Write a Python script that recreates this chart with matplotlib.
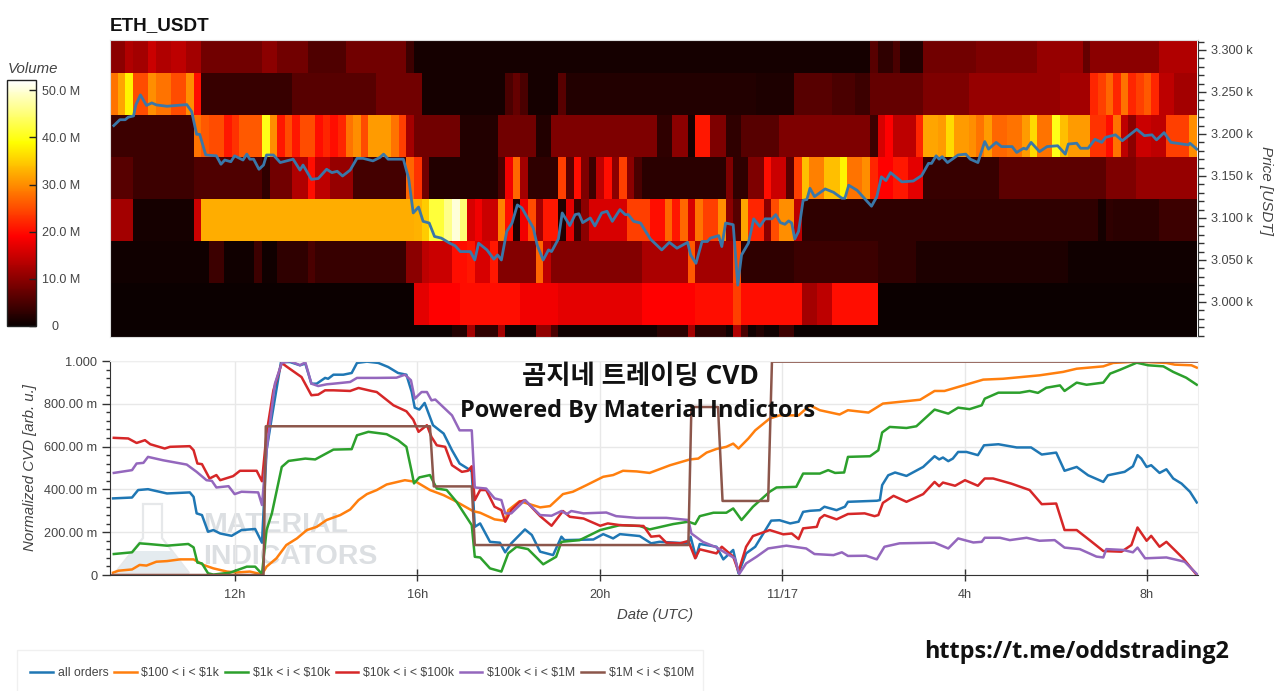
"""ETH_USDT volume heatmap with normalized CVD by order size."""
import numpy as np
import matplotlib
matplotlib.use("Agg")
import matplotlib.pyplot as plt
from matplotlib.patches import Polygon, Rectangle
from matplotlib.lines import Line2D
from matplotlib.ticker import FixedLocator, MultipleLocator
from matplotlib.transforms import ScaledTranslation

plt.rcParams["font.family"] = ["Liberation Sans", "DejaVu Sans"]

# 10 minute bars, first bar starts at 09:15:36 on 11/16 (hours since 11/16 00:00)
START_HOUR = 9.26
N_BARS = 143
VMAX = 52.2
# lower edge of the lowest volume row and the row height, in USDT
ROW_FLOOR = 2922.6
ROW_HEIGHT = 50

# volume per price level in millions, as (last bar of the run, volume)
vol_3300 = [(2, 10), (3, 13), (5, 12), (6, 15), (8, 13), (10, 14), (12, 12), (20, 8), (22, 10), (26, 8), (31, 5.5),
            (39, 8), (40, 4), (100, 1), (101, 6), (103, 3), (104, 5), (107, 2), (114, 8), (122, 9), (128, 11), (129, 7),
            (138, 10), (143, 13)]
vol_3250 = [(1, 28), (2, 32), (3, 38), (5, 25), (6, 30), (8, 28), (10, 25), (11, 30), (12, 20), (24, 3.5), (35, 6),
            (41, 8), (52, 1), (53, 5), (54, 7), (55, 5), (59, 1), (60, 6), (85, 2), (90, 1.5), (95, 6), (98, 5),
            (100, 4), (107, 7), (113, 9), (125, 11), (129, 12), (130, 22), (131, 24), (132, 27), (133, 22), (134, 28),
            (135, 22), (136, 24), (137, 26), (138, 22), (140, 14), (143, 12)]
vol_3200 = [(11, 4), (12, 28), (13, 26), (15, 25), (16, 21), (17, 23), (20, 26), (21, 40), (22, 30), (23, 21), (24, 25),
            (25, 21), (27, 25), (28, 20), (29, 22), (30, 20), (31, 22), (32, 28), (33, 30), (34, 25), (37, 31), (38, 28),
            (39, 24), (40, 12), (46, 8), (51, 2), (56, 8), (58, 2), (72, 9), (74, 3), (76, 10), (77, 1), (79, 21), (81, 9),
            (83, 3), (88, 6), (100, 9), (101, 4), (102, 16), (103, 19), (106, 14), (107, 22), (109, 32), (110, 31),
            (111, 36), (113, 31), (114, 30), (115, 28), (116, 31), (118, 27), (120, 28), (121, 31), (122, 36), (124, 28),
            (125, 40), (126, 34), (129, 31), (131, 23), (132, 20), (133, 28), (134, 14), (135, 10), (137, 15), (139, 14),
            (142, 24), (143, 30)]
vol_3150 = [(3, 6), (11, 4), (20, 5.5), (21, 3), (24, 8), (26, 13), (27, 20), (29, 14), (32, 11), (39, 4.5), (40, 27),
            (41, 23), (42, 8), (51, 2), (52, 5), (53, 18), (54, 27), (55, 12), (59, 3), (60, 24), (61, 6), (62, 20),
            (63, 9), (64, 4), (65, 14), (66, 20), (67, 10), (68, 24), (69, 10), (70, 5), (81, 2.5), (82, 9), (84, 3),
            (86, 9), (87, 20), (89, 15), (90, 6), (91, 24), (92, 34), (94, 29), (96, 34), (97, 38), (99, 28), (100, 30),
            (101, 22), (103, 19), (105, 21), (107, 17), (117, 3.5), (131, 6.5), (135, 9), (143, 11)]
vol_3100 = [(3, 12), (11, 1), (12, 15), (40, 32.5), (41, 33), (42, 35), (44, 42), (45, 46), (46, 50), (47, 45), (48, 16),
            (49, 18), (51, 15), (52, 29), (53, 20), (54, 2), (55, 18), (56, 25), (57, 12), (59, 21), (60, 2), (61, 17),
            (62, 4), (63, 10), (68, 16), (71, 24), (73, 20), (74, 27), (75, 21), (76, 27), (77, 16), (78, 28), (80, 24),
            (81, 30), (82, 10), (83, 6), (84, 32), (86, 22), (87, 10), (88, 25), (90, 30), (91, 14), (130, 3), (131, 1),
            (132, 3), (138, 2.5), (143, 4)]
vol_3050 = [(13, 0.5), (15, 4), (19, 0.5), (20, 4), (22, 0.5), (26, 3), (27, 5), (39, 3.5), (41, 10), (42, 14), (45, 15),
            (47, 20), (48, 21), (50, 16), (51, 21), (56, 9.5), (57, 27), (58, 14), (70, 9.5), (76, 12.5), (77, 26), (82, 12),
            (83, 25), (90, 3), (101, 4), (106, 3), (126, 1.5), (143, 0.5)]
vol_3000 = [(40, 0.2), (42, 17), (46, 19), (48, 20), (54, 20), (59, 18), (70, 17), (77, 19), (82, 20), (83, 24), (91, 20),
            (93, 12), (95, 14), (101, 20), (143, 0.2)]
vol_2950 = [(45, 0.2), (47, 2), (48, 12), (51, 3), (52, 12), (56, 0.5), (58, 10.5), (59, 5), (72, 0.5), (76, 2.5),
            (77, 12), (81, 2.5), (82, 0.5), (83, 13), (84, 5), (85, 0.5), (86, 2), (88, 0.5), (90, 4), (143, 0.2)]

# price as (bar, USDT)
price = [(0.5, 3210), (1.3, 3217), (2, 3217), (2.4, 3220), (3.1, 3221.5), (3.4, 3234.6), (4, 3246.5), (4.8, 3234),
         (5.5, 3237), (6.1, 3234.6), (7.5, 3233), (8.8, 3234), (10.1, 3235), (10.75, 3226.6), (11.4, 3199.6),
         (11.8, 3199.6), (12.6, 3175), (14, 3174), (14.6, 3164), (15.1, 3169), (15.9, 3167), (16.4, 3174), (17.5, 3169),
         (18, 3176), (18.4, 3170), (18.9, 3170), (19.6, 3158), (20.2, 3163), (20.6, 3175), (21.5, 3175), (22.4, 3166),
         (24.1, 3170), (25, 3157), (25.4, 3163), (26.5, 3146), (27.4, 3147), (28.5, 3158), (29.2, 3154), (29.9, 3155.6),
         (30.6, 3150), (31.6, 3157), (32.5, 3171), (33.3, 3171), (34.6, 3168), (35.5, 3172), (36, 3176), (36.6, 3170),
         (38.6, 3170), (39.3, 3147), (39.9, 3106), (40.6, 3113), (41.2, 3096), (42, 3094), (42.7, 3078), (43.6, 3076),
         (44.7, 3070), (45.4, 3067), (46.1, 3060), (47.4, 3060), (48, 3050), (48.5, 3070), (49.6, 3062), (50.5, 3051),
         (51, 3056), (51.5, 3050), (52.2, 3084), (52.9, 3094), (53.6, 3115.5), (54.2, 3112), (55.7, 3088), (56.2, 3068),
         (57, 3050), (57.7, 3062), (58.1, 3060), (59, 3075), (59.5, 3106), (60.5, 3091), (61.2, 3104), (61.7, 3105),
         (62.2, 3094.5), (63.2, 3100), (63.8, 3090.5), (64.7, 3106), (65.4, 3108), (66.1, 3096), (67.1, 3110), (67.8, 3104),
         (68.2, 3104), (68.9, 3096), (69.8, 3094), (71.1, 3075), (72.6, 3062), (73.6, 3071), (74.6, 3064), (76, 3071),
         (76.4, 3056), (77.1, 3046), (77.9, 3072), (78.6, 3072), (79, 3076), (80.1, 3079), (80.5, 3066), (81, 3094),
         (82, 3092), (82.6, 3020), (83.1, 3056), (84, 3070), (84.7, 3099), (85.5, 3090), (86.2, 3099), (87.1, 3099),
         (87.6, 3104), (88.2, 3094.5), (88.8, 3092.5), (89.3, 3096.5), (89.7, 3094), (90.1, 3075), (90.6, 3084), (91.2, 3121),
         (91.7, 3122), (92.1, 3135.4), (92.7, 3125.5), (94.1, 3134.6), (95.2, 3130.6), (96.3, 3123.5), (96.7, 3123.5),
         (97.2, 3139), (98.3, 3133), (100.2, 3114), (100.9, 3125.4), (101.5, 3149), (102.1, 3144.5), (102.7, 3154),
         (104.2, 3143), (105.7, 3144), (106.8, 3150.5), (107.7, 3165), (108.1, 3165), (108.7, 3174), (109.1, 3170),
         (109.5, 3173), (110.2, 3166), (111.6, 3175), (112.6, 3176), (113.2, 3170), (114.2, 3166), (115.1, 3191), (115.6, 3182),
         (116.6, 3190), (117.3, 3185), (118.7, 3185), (119.3, 3178), (120.2, 3183), (120.6, 3182), (121.2, 3190), (122.3, 3179),
         (123.3, 3185), (124.7, 3186), (125.7, 3176), (126.1, 3188), (127.2, 3189), (127.7, 3183), (128.7, 3183), (129.6, 3193.7),
         (130.5, 3190), (131, 3196), (132.3, 3199), (133.2, 3192), (135.1, 3205.6), (136.1, 3198), (137.1, 3199), (137.7, 3193),
         (138.7, 3201.6), (139.6, 3190), (141.9, 3187), (142.1, 3189), (143, 3182)]

# normalized CVD as (bar, milli units)
cvd_all = [(0.4, 358), (2.9, 362), (3.7, 397), (5, 401), (7.5, 381), (10.5, 386), (11, 365), (11.4, 288), (12.1, 280),
           (12.9, 202), (13.6, 210), (14.5, 194), (16, 183), (17.3, 210), (19.1, 215), (20, 151), (20.6, 583), (21.3, 739),
           (22.5, 995), (23.7, 995), (25, 980), (25.7, 988), (26.5, 894), (27.2, 894), (28.3, 921), (28.7, 917), (29.4, 936),
           (30.7, 936), (31.8, 944), (32.5, 991), (33.8, 997), (35.3, 991), (36.6, 972), (37.9, 944), (39, 936), (39.7, 855),
           (40.1, 782), (40.7, 773), (41.4, 804), (42.5, 700), (43.9, 661), (45, 583), (46, 521), (47.4, 490), (47.6, 482),
           (48, 225), (48.7, 241), (50, 155), (51.3, 151), (52, 106), (52.8, 148), (54.6, 213), (55.5, 187), (56.6, 109),
           (58.3, 93), (59.4, 179), (59.8, 163), (63.6, 166), (64.9, 191), (66.2, 171), (67.1, 191), (69.7, 182), (71.2, 148),
           (72.3, 155), (76.1, 148), (76.4, 179), (77.1, 82), (77.6, 145), (79.8, 132), (80.7, 73), (82, 117), (82.7, 8),
           (83.7, 101), (84.9, 132), (87, 254), (88.1, 256), (89.5, 241), (90.6, 249), (91.2, 295), (92.1, 300), (93.4, 303),
           (94, 319), (95.6, 303), (96.7, 319), (97.1, 342), (100.9, 347), (101.3, 350), (101.6, 420), (102.4, 466), (103.3, 479),
           (104.8, 463), (107, 505), (108.5, 555), (109.1, 540), (109.6, 549), (110.3, 532), (110.9, 544), (111.6, 575),
           (112.7, 575), (114.2, 560), (115, 606), (116.9, 611), (119.3, 596), (121.2, 596), (122.6, 563), (124.5, 572),
           (125.6, 487), (127.2, 505), (128.7, 466), (130.7, 435), (131.3, 466), (133.5, 482), (134.6, 508), (135.2, 560),
           (135.7, 544), (136.4, 505), (137, 513), (138.1, 477), (139, 494), (139.9, 451), (141, 427), (142.1, 389), (143, 339)]
cvd_100_1k = [(0.4, 11), (1.1, 20), (2.9, 26), (3.9, 47), (4.8, 44), (6.1, 62), (7.5, 65), (9.2, 73), (11, 73), (12.3, 47),
              (13.6, 31), (15.4, 16), (16.7, 12), (18.4, 16), (20, 3), (20.6, 39), (21.9, 78), (23.2, 140), (24.6, 171),
              (25.9, 210), (27.2, 225), (28.5, 257), (30.3, 280), (31.6, 306), (32.7, 350), (33.8, 378), (35.1, 397), (36.4, 423),
              (38.8, 443), (40.3, 435), (42.1, 397), (43.9, 373), (45.2, 350), (47.8, 298), (48.7, 291), (50.6, 260), (52, 253),
              (52.4, 303), (53.9, 345), (56.6, 316), (57.9, 322), (59.6, 378), (60.9, 389), (62.7, 420), (64.9, 459), (66.2, 467),
              (67.5, 487), (69.3, 484), (71, 477), (73.7, 513), (76.3, 540), (77.4, 544), (78.5, 572), (79.8, 589), (81.1, 599),
              (82, 614), (82.7, 591), (84, 638), (84.9, 676), (86.8, 731), (88.1, 746), (90.6, 746), (92.1, 793), (93.4, 770),
              (96, 750), (97.1, 770), (99.8, 759), (101.7, 801), (106.6, 819), (108.5, 860), (109.8, 860), (114.9, 913),
              (117.5, 917), (122.3, 933), (125.4, 949), (127.2, 964), (130.7, 975), (132, 991), (135.1, 997), (139, 991),
              (140.1, 983), (142.3, 980), (143, 969)]
cvd_1k_10k = [(0.5, 98), (2.9, 106), (3.9, 148), (5, 145), (7.5, 137), (10.3, 145), (11, 129), (11.5, 58), (12.1, 54),
              (12.9, 8), (13.6, 2), (15.8, 11), (18, 39), (19.1, 39), (20, 5), (20.6, 210), (21.3, 288), (22.6, 505), (23.5, 533),
              (25.7, 544), (27, 540), (28.3, 565), (29.4, 586), (31.8, 588), (32.5, 653), (34, 669), (36.4, 658), (37.9, 630),
              (39, 599), (39.7, 482), (40, 428), (40.7, 456), (42.1, 467), (43, 404), (44.3, 397), (45.6, 342), (47.6, 233),
              (48, 85), (48.7, 82), (50, 31), (51.5, 16), (52.4, 101), (53.5, 132), (55, 121), (57, 50), (58.7, 85), (59.4, 155),
              (61.8, 163), (64.5, 210), (67.1, 233), (69.7, 229), (71, 213), (74.1, 238), (76.1, 249), (77, 238), (77.6, 275),
              (79.4, 291), (81.1, 291), (82, 311), (83.1, 257), (84.6, 319), (86.8, 389), (87.7, 409), (90.3, 412), (91.2, 474),
              (92.1, 474), (93.4, 474), (94.5, 490), (95.4, 477), (96.6, 479), (97.1, 552), (100, 555), (101.1, 583), (101.6, 666),
              (102.6, 692), (104.8, 687), (106.1, 695), (108.5, 773), (110.3, 754), (111.6, 782), (113.1, 775), (114.7, 793),
              (115.1, 824), (116.9, 852), (119.7, 852), (121, 860), (122.1, 851), (123.2, 875), (125, 886), (125.6, 860),
              (127.2, 899), (128.5, 889), (130.7, 899), (131.6, 941), (132.9, 959), (135.1, 992), (136.6, 980), (138.6, 975),
              (139.9, 949), (141.6, 922), (143, 889)]
cvd_10k_100k = [(0.5, 641), (2.4, 638), (3.5, 617), (4.6, 630), (5.3, 611), (7.2, 591), (7.9, 599), (10.5, 602), (11, 583),
                (11.5, 521), (12.1, 518), (13.1, 451), (14, 467), (14.5, 443), (16.2, 462), (17.1, 487), (19.3, 487), (20, 438),
                (20.6, 661), (21.5, 863), (22.6, 991), (23.2, 975), (25.2, 925), (26.5, 840), (27.4, 843), (28.3, 863), (29.4, 863),
                (31.6, 860), (32.7, 874), (34.4, 860), (35.1, 855), (37.3, 793), (39, 765), (39.9, 726), (40.6, 669), (41.7, 700),
                (42.3, 645), (43, 606), (44.1, 599), (45, 513), (46.3, 482), (47.1, 487), (47.6, 508), (48, 350), (48.7, 397),
                (49.5, 397), (50.6, 319), (51.5, 303), (52, 249), (52.8, 303), (53.9, 342), (54.6, 350), (56.6, 275), (58.1, 230),
                (59.6, 299), (60.5, 272), (62.3, 264), (64.5, 230), (65.5, 241), (67.1, 233), (70.2, 229), (71.2, 179), (72.3, 183),
                (73.2, 151), (75, 148), (76.1, 159), (77, 78), (77.6, 120), (79.8, 101), (80.5, 132), (82, 86), (82.7, 16),
                (83.7, 132), (84.6, 182), (86.8, 210), (88.6, 190), (89.7, 194), (90.6, 168), (91.2, 218), (93, 225), (93.4, 264),
                (94, 280), (95.6, 260), (97.1, 285), (99.3, 288), (100.6, 275), (101.1, 280), (101.7, 337), (103.1, 370), (104.8, 342),
                (107, 378), (108.5, 435), (109.1, 415), (109.6, 432), (111.2, 417), (112.5, 443), (114.2, 417), (115.1, 451),
                (116.2, 451), (118.6, 427), (121, 397), (122.6, 331), (124.5, 334), (125.6, 210), (127.2, 210), (128.9, 163),
                (130.7, 112), (133.1, 109), (134.4, 140), (135.2, 222), (136.4, 160), (137, 183), (138.1, 132), (139, 155),
                (141.2, 78), (143, 0)]
cvd_100k_1m = [(0.5, 477), (2.9, 490), (3.5, 521), (4.4, 524), (5, 552), (7, 536), (10.1, 516), (11.4, 482), (12.7, 443),
               (13.4, 440), (14, 409), (15.6, 415), (16.4, 378), (17.3, 389), (19.5, 386), (20, 327), (20.6, 583), (21.7, 894),
               (22.6, 991), (23.7, 1000), (25, 980), (25.7, 994), (26.5, 894), (27.4, 883), (28.5, 891), (29.4, 894), (31.6, 902),
               (32.5, 921), (35.1, 921), (37.7, 922), (38.8, 936), (39.6, 910), (40.1, 824), (41, 855), (41.7, 855), (42.3, 816),
               (42.8, 820), (45, 746), (46, 676), (47.6, 676), (48, 409), (49.5, 404), (50.6, 358), (51.5, 350), (52, 288),
               (52.8, 288), (54.6, 350), (56.6, 280), (58.1, 277), (59.4, 299), (60.1, 285), (60.7, 299), (62.3, 288), (65.3, 292),
               (66.6, 275), (69.3, 267), (73.2, 267), (76.1, 257), (76.5, 194), (78, 155), (79.8, 129), (81.1, 101), (82.2, 78),
               (82.8, 5), (83.7, 54), (85.1, 86), (86.6, 124), (89, 137), (91.6, 124), (92.7, 98), (95.2, 93), (96.3, 106),
               (97.1, 89), (99.5, 90), (100.9, 73), (101.9, 132), (103.9, 148), (108.5, 151), (110.3, 124), (111.6, 171), (113.6, 152),
               (114.7, 155), (115.1, 174), (117.1, 174), (118.4, 163), (120.6, 174), (122.3, 160), (124.3, 163), (125.6, 128),
               (127.6, 121), (129.8, 86), (130.7, 82), (131.1, 121), (133.3, 117), (134.6, 106), (135.2, 128), (136.2, 78),
               (139, 82), (141.4, 62), (143, 5)]
cvd_1m_10m = [(0, 0), (20.2, 0), (20.5, 695), (42.1, 695), (42.6, 414), (47.6, 414), (48, 140), (76.1, 140), (76.5, 785),
              (80, 785), (80.6, 346), (86.6, 346), (87.1, 997), (143, 997)]

cvd_series = [cvd_all, cvd_100_1k, cvd_1k_10k, cvd_10k_100k, cvd_100k_1m, cvd_1m_10m]
cvd_labels = ["all orders", r"\$100 < i < \$1k", r"\$1k < i < \$10k", r"\$10k < i < \$100k", r"\$100k < i < \$1M", r"\$1M < i < \$10M"]
cvd_colors = ["#1f77b4", "#ff7f0e", "#2ca02c", "#d62728", "#9467bd", "#8c564b"]

hour_ticks = [12, 16, 20, 24, 28, 32]
hour_labels = ["12h", "16h", "20h", "11/17", "4h", "8h"]
cvd_ticks = [0, 200, 400, 600, 800, 1000]
cvd_tick_labels = ["0", "200.00 m", "400.00 m", "600.00 m", "800.00 m", "1.000"]
price_ticks = [3000, 3050, 3100, 3150, 3200, 3250, 3300]
price_tick_labels = ["3.000 k", "3.050 k", "3.100 k", "3.150 k", "3.200 k", "3.250 k", "3.300 k"]
vol_ticks = [0, 10, 20, 30, 40, 50]
vol_tick_labels = ["0", "10.0 M", "20.0 M", "30.0 M", "40.0 M", "50.0 M"]


def bar_to_hour(bar):
    return START_HOUR + np.asarray(bar, dtype=float) / 6


def expand_runs(runs):
    out = np.zeros(N_BARS)
    first = 0
    for last, value in runs:
        out[first:last] = value
        first = last
    return out


def pixel_axes(fig, left, top, right, bottom):
    return fig.add_axes([left / W, 1 - bottom / H, (right - left) / W, (bottom - top) / H])


W, H = 1280, 691
TEXT = "#444444"
fig = plt.figure(figsize=(W / 100, H / 100), dpi=100)

# background layer in pixel coordinates: watermark and legend box
bg = fig.add_axes([0, 0, 1, 1], zorder=0)
bg.set_xlim(0, W)
bg.set_ylim(H, 0)
bg.axis("off")
bg.add_patch(Polygon([(143, 504), (162, 504), (162, 538), (189, 573), (115, 573), (143, 538)], closed=True,
                     facecolor="none", edgecolor="#e6e8ea", linewidth=1.6))
bg.add_patch(Polygon([(133, 551), (172, 551), (187, 572), (117, 572)], closed=True, facecolor="#e4ebef", edgecolor="none"))
bg.text(203, 525, "MATERIAL", fontweight="bold", fontsize=20.5, color="#dcdfe2", va="center", ha="left")
bg.text(203, 557, "INDICATORS", fontweight="bold", fontsize=20.5, color="#dcdfe2", va="center", ha="left")
bg.add_patch(Rectangle((17, 650), 686, 50, facecolor="white", edgecolor="#f0f0f0", linewidth=1))

# --- heatmap panel ---
ax1 = pixel_axes(fig, 110, 40, 1198, 337)
ax1.set_zorder(1)
volume = np.array([expand_runs(r) for r in [vol_2950, vol_3000, vol_3050, vol_3100, vol_3150, vol_3200, vol_3250, vol_3300]])
x_edges = bar_to_hour(np.arange(N_BARS + 1))
y_edges = ROW_FLOOR + ROW_HEIGHT * np.arange(volume.shape[0] + 1)
mesh = ax1.pcolormesh(x_edges, y_edges, volume, cmap="hot", vmin=0, vmax=VMAX)
ax1.plot(bar_to_hour([p[0] for p in price]), [p[1] for p in price], color="#3a77a8", linewidth=2)
ax1.set_xlim(START_HOUR, bar_to_hour(143.16))
ax1.set_ylim(2958.3, 3311.9)
ax1.set_xticks([])
ax1.yaxis.tick_right()
ax1.yaxis.set_label_position("right")
ax1.set_yticks(price_ticks)
ax1.set_yticklabels(price_tick_labels)
ax1.yaxis.set_minor_locator(MultipleLocator(10))
ax1.tick_params(axis="y", which="major", length=6, width=1, color="#333333", labelcolor=TEXT, labelsize=9.2, pad=3.5)
ax1.tick_params(axis="y", which="minor", length=4, width=1, color="#333333")
for side in ["top", "left", "bottom"]:
    ax1.spines[side].set_color("#dddddd")
ax1.spines["right"].set_color("#333333")
fig.text(1266 / W, 1 - 190 / H, "Price [USDT]", style="italic", color=TEXT, fontsize=11, rotation=270, va="center", ha="center")
fig.text(110 / W, 1 - 26 / H, "ETH_USDT", fontweight="bold", fontsize=13.6, color="#111111", va="center", ha="left")

# --- colorbar ---
cax = pixel_axes(fig, 7, 80, 36, 326)
cbar = fig.colorbar(mesh, cax=cax)
cbar.set_ticks(vol_ticks)
cbar.set_ticklabels(vol_tick_labels)
cbar.outline.set_edgecolor("#222222")
cbar.outline.set_linewidth(1)
cax.tick_params(axis="y", direction="in", length=5, width=1, color="#222222", labelcolor=TEXT, labelsize=9, pad=4, right=True)
zero_label = cax.get_yticklabels()[0]
zero_label.set_transform(zero_label.get_transform() + ScaledTranslation(10 / 100, 0, fig.dpi_scale_trans))
fig.text(8 / W, 1 - 69 / H, "Volume", style="italic", color=TEXT, fontsize=10.8, va="center", ha="left")

# --- CVD panel ---
ax2 = pixel_axes(fig, 110, 361, 1198, 575)
ax2.set_zorder(1)
ax2.patch.set_alpha(0)
for series, label, color in zip(cvd_series, cvd_labels, cvd_colors):
    ax2.plot(bar_to_hour([p[0] for p in series]), [p[1] for p in series], color=color, linewidth=1.8, label=label)
ax2.set_xlim(START_HOUR, bar_to_hour(143.16))
ax2.set_ylim(0, 1000)
ax2.set_xticks(hour_ticks)
ax2.set_xticklabels(hour_labels)
ax2.set_yticks(cvd_ticks)
ax2.set_yticklabels(cvd_tick_labels)
ax2.yaxis.set_minor_locator(FixedLocator(np.arange(0, 1001, 40)))
ax2.grid(True, color="#e8e8e8", linewidth=1)
ax2.set_axisbelow(True)
ax2.tick_params(axis="x", direction="inout", length=8, width=1, color="#333333", labelcolor=TEXT, labelsize=9.2, pad=6)
ax2.tick_params(axis="y", which="major", length=6, width=1, color="#333333", labelcolor=TEXT, labelsize=9.2, pad=3)
ax2.tick_params(axis="y", which="minor", length=3, width=1, color="#333333")
for side in ["top", "right"]:
    ax2.spines[side].set_color("#eeeeee")
for side in ["left", "bottom"]:
    ax2.spines[side].set_color("#333333")
fig.text(655 / W, 1 - 615 / H, "Date (UTC)", style="italic", color=TEXT, fontsize=10.7, va="center", ha="center")
fig.text(30 / W, 1 - 468 / H, "Normalized CVD [arb. u.]", style="italic", color=TEXT, fontsize=10.8, rotation=90,
         va="center", ha="center")

handles = [Line2D([], [], color=c, linewidth=1.8) for c in cvd_colors]
fig.legend(handles, cvd_labels, ncol=6, loc="center left", bbox_to_anchor=(30 / W, 1 - 673 / H), frameon=False,
           fontsize=8.8, labelcolor=TEXT, handlelength=1.85, handletextpad=0.4, columnspacing=0.47, borderpad=0, borderaxespad=0)

# overlaid captions
CAPTION = ["Open Sans", "Noto Sans CJK KR", "DejaVu Sans"]
fig.text(640 / W, 1 - 376 / H, "곰지네 트레이딩 CVD", family=CAPTION, fontweight="bold", fontsize=19, color="#111111",
         va="center", ha="center", zorder=10)
fig.text(638 / W, 1 - 411 / H, "Powered By Material Indictors", family=CAPTION, fontweight="bold", fontsize=17, color="#111111",
         va="center", ha="center", zorder=10)
fig.text(1077 / W, 1 - 652 / H, "https://t.me/oddstrading2", family=CAPTION, fontweight="bold", fontsize=16.8, color="#111111",
         va="center", ha="center", zorder=10)

fig.savefig("out.png", dpi=100)
